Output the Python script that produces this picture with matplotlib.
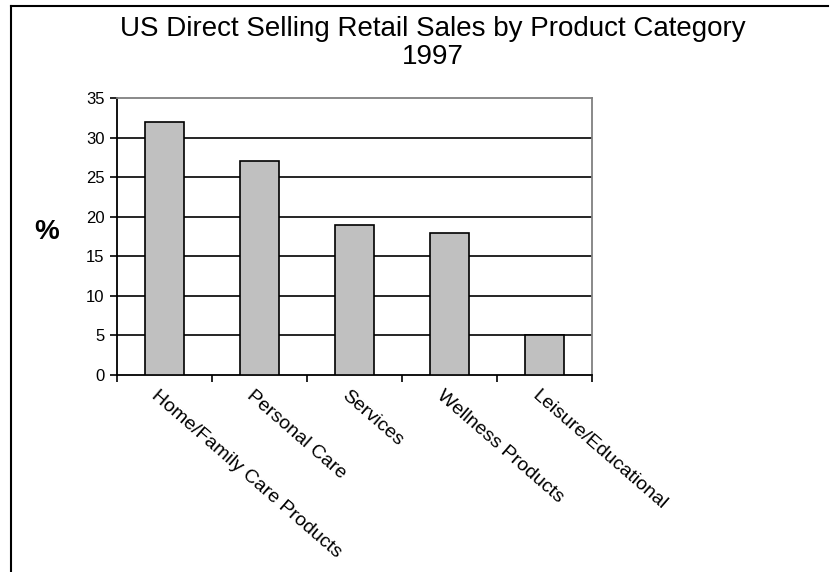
import matplotlib.pyplot as plt
from matplotlib.lines import Line2D

plt.rcParams['font.family'] = ['Liberation Sans', 'DejaVu Sans']

# categories and their share of sales (%)
categories = ['Home/Family Care Products', 'Personal Care', 'Services',
              'Wellness Products', 'Leisure/Educational']
shares = [32, 27, 19, 18, 5]
y_ticks = [0, 5, 10, 15, 20, 25, 30, 35]

W, H = 835, 572
fig = plt.figure(figsize=(W / 100, H / 100), dpi=100)
ax = fig.add_axes([117 / W, 1 - 375 / H, (592 - 117) / W, (375 - 98) / H])

x = list(range(len(categories)))
ax.bar(x, shares, width=0.42, color='#c0c0c0', edgecolor='black',
       linewidth=1.2, zorder=3)

ax.set_xlim(-0.5, len(categories) - 0.5)
ax.set_ylim(0, 35)
ax.set_yticks(y_ticks)
ax.set_yticklabels([str(v) for v in y_ticks], fontsize=12)
for v in y_ticks[1:-1]:
    ax.axhline(v, color='black', linewidth=1.2, zorder=1)

# ticks at category boundaries, labels placed by hand
ax.set_xticks([i - 0.5 for i in range(len(categories) + 1)])
ax.set_xticklabels([])
ax.tick_params(axis='x', direction='out', length=5, width=1.2)
ax.tick_params(axis='y', direction='out', length=5, width=1.2, pad=4)

for i, name in enumerate(categories):
    ax.text(i - 0.11, -2.3, name, rotation=-41, rotation_mode='anchor',
            ha='left', va='center', fontsize=14)

ax.spines['left'].set_color('black')
ax.spines['bottom'].set_color('black')
ax.spines['left'].set_linewidth(1.3)
ax.spines['bottom'].set_linewidth(1.3)
ax.spines['top'].set_color('#808080')
ax.spines['right'].set_color('#808080')
ax.spines['top'].set_linewidth(1.3)
ax.spines['right'].set_linewidth(1.3)

fig.text(47 / W, 1 - 232 / H, '%', fontsize=20, fontweight='bold',
         ha='center', va='center')
fig.text(433 / W, 1 - 43 / H,
         'US Direct Selling Retail Sales by Product Category\n1997',
         fontsize=20, ha='center', va='center', linespacing=1.12)

# outer frame: left and top edges
fig.add_artist(Line2D([11 / W, 11 / W], [0, 1 - 6 / H], color='black',
                      linewidth=1.5, transform=fig.transFigure))
fig.add_artist(Line2D([11 / W, 828 / W], [1 - 6 / H, 1 - 6 / H],
                      color='black', linewidth=1.5,
                      transform=fig.transFigure))

fig.savefig('out.png', dpi=100)
